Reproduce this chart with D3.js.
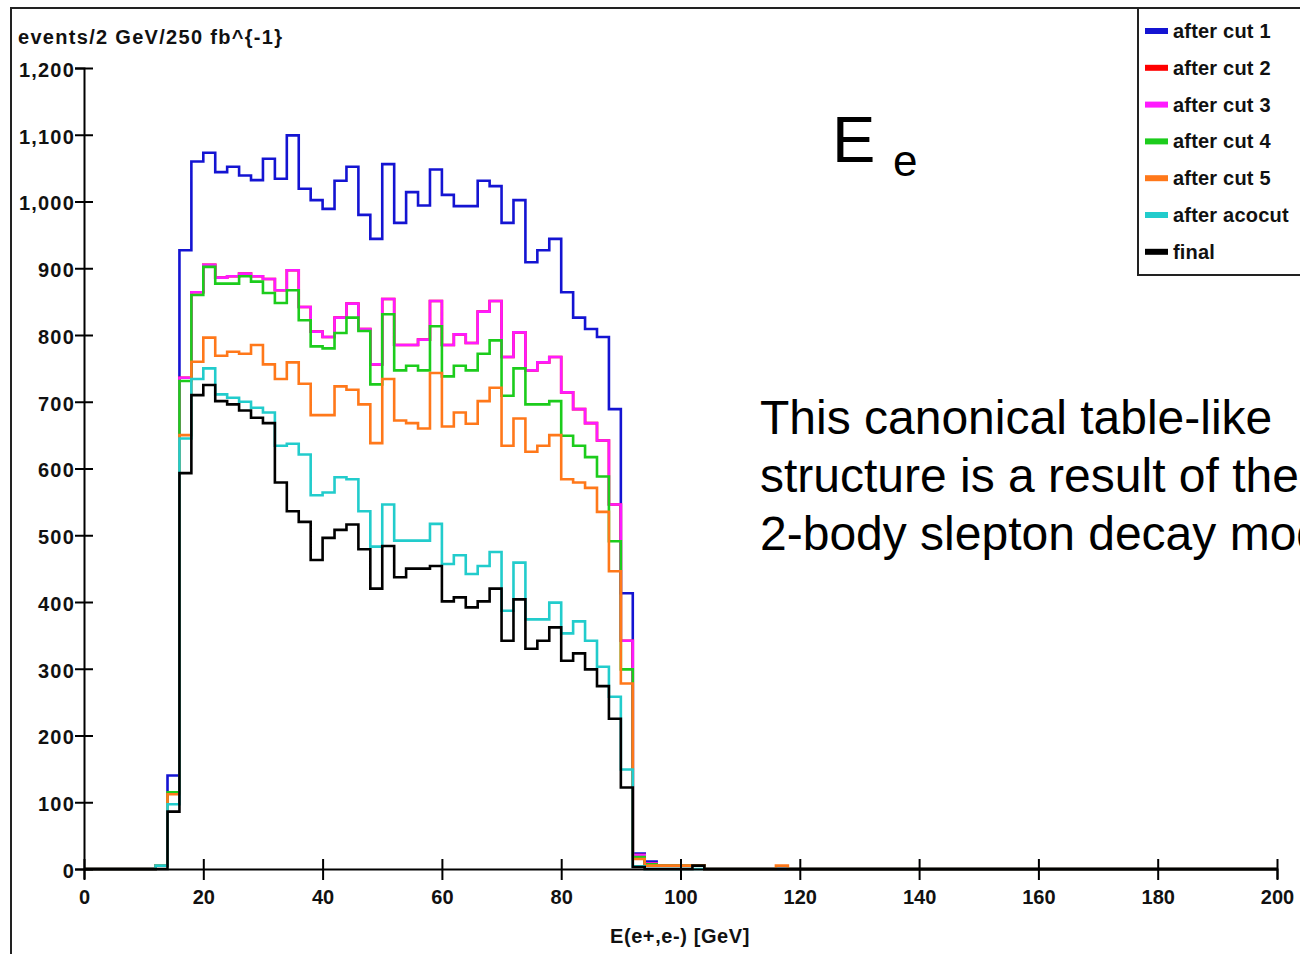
<!DOCTYPE html>
<html>
<head>
<meta charset="utf-8">
<script src="https://cdn.jsdelivr.net/npm/d3@7"></script>
<style>
  body { margin: 0; background: #fff; }
  svg { display: block; }
  .lbl { font-family: "Liberation Sans", Arial, sans-serif; font-weight: bold; font-size: 20px; fill: #111; }
  .note { font-family: "Liberation Sans", Arial, sans-serif; fill: #000; }
</style>
</head>
<body>
<div id="graph"></div>
<script>
/* data: one value per 2 GeV bin, first bin starts at 12 GeV */
var binStart = 12;
var binWidth = 2;

var cut1   = [5,140,927,1060,1073,1044,1052,1039,1032,1064,1034,1099,1019,1002,989,1031,1052,980,944,1056,968,1014,994,1048,1010,993,993,1031,1023,968,1002,909,927,944,864,826,809,797,689,413,23,11,5,5,5,5];
var cut2   = [5,115,736,864,905,886,888,892,888,884,867,897,842,805,797,826,847,809,756,854,785,785,793,851,785,801,788,835,851,767,804,747,759,767,714,689,668,642,546,342,21,8,5,5,5,5];
var cut3   = [5,115,736,864,905,886,888,892,888,884,867,897,842,805,797,826,847,809,756,854,785,785,793,851,785,801,788,835,851,767,804,747,759,767,714,689,668,642,546,342,21,8,5,5,5,5];
var cut4   = [5,115,731,860,902,877,877,888,880,863,848,867,822,783,780,803,826,806,726,831,747,754,747,813,738,754,747,772,792,709,750,696,696,701,649,634,617,588,491,299,18,7,5,5,5,5];
var cut5   = [5,112,650,760,796,769,775,772,785,756,734,759,727,680,680,723,718,696,638,734,672,668,660,743,663,684,667,701,721,634,675,625,634,650,584,579,571,535,446,278,15,5,5,5,5,5,0,0,0,0,0,0,5];
var acocut = [5,97,645,734,750,711,706,700,691,684,634,637,621,560,564,587,584,536,483,546,492,492,492,517,457,470,442,454,475,387,459,374,374,399,353,371,342,303,258,149,4];
var final  = [0,86,593,710,725,701,696,687,676,668,579,536,520,463,496,508,516,479,420,484,437,450,450,454,401,407,392,401,420,342,404,330,342,362,312,323,299,274,225,122,3,0,0,0,0,5];

var seriesNames  = ["after cut 1", "after cut 2", "after cut 3", "after cut 4", "after cut 5", "after acocut", "final"];
var seriesData   = [cut1, cut2, cut3, cut4, cut5, acocut, final];
var seriesColors = ["#1414d2", "#ff0000", "#ff1aff", "#1ccc1c", "#ff781a", "#22cccc", "#000000"];

var xTicks = [0, 20, 40, 60, 80, 100, 120, 140, 160, 180, 200];
var yTicks = [0, 100, 200, 300, 400, 500, 600, 700, 800, 900, 1000, 1100, 1200];

var yTitle = "events/2 GeV/250 fb^{-1}";
var xTitle = "E(e+,e-) [GeV]";

var width = 1300;
var height = 954;

var svg = d3.select("#graph")
            .append("svg")
            .attr("width", width)
            .attr("height", height);

var x = d3.scaleLinear().domain([0, 200]).range([84, 1277]);
var y = d3.scaleLinear().domain([0, 1200]).range([869, 68]);

// outer frame (cut by the page edge on right and bottom)
svg.append("path")
   .attr("d", "M11,956 L11,8 L1302,8")
   .attr("fill", "none")
   .attr("stroke", "#222")
   .attr("stroke-width", 2);

// histograms as step outlines
var line = d3.line()
             .x(function(d) { return x(d[0]); })
             .y(function(d) { return y(d[1]); })
             .curve(d3.curveStepAfter);

seriesData.forEach(function(vals, k) {
  var pts = [[0, 0]];
  vals.forEach(function(v, i) { pts.push([binStart + i * binWidth, v]); });
  pts.push([binStart + vals.length * binWidth, 0]);
  pts.push([200, 0]);
  svg.append("path")
     .datum(pts)
     .attr("d", line)
     .attr("fill", "none")
     .attr("stroke", seriesColors[k])
     .attr("stroke-width", 2.6)
     .attr("stroke-linejoin", "miter");
});

// axes
var xAxis = svg.append("g")
   .attr("transform", "translate(0," + y(0) + ")")
   .call(d3.axisBottom(x).tickValues(xTicks).tickSize(10).tickFormat(d3.format("d")));
xAxis.select(".domain").attr("stroke", "#000").attr("stroke-width", 2);
xAxis.selectAll(".tick line").attr("y1", -10).attr("y2", 11).attr("stroke", "#000").attr("stroke-width", 2);
xAxis.selectAll(".tick text").attr("class", "lbl").attr("y", 21).attr("dy", "0.71em");

var yAxis = svg.append("g")
   .attr("transform", "translate(" + x(0) + ",0)")
   .call(d3.axisLeft(y).tickValues(yTicks).tickSize(9).tickFormat(d3.format(",")));
yAxis.select(".domain").attr("stroke", "#000").attr("stroke-width", 2);
yAxis.selectAll(".tick line").attr("x1", 9).attr("x2", -9).attr("stroke", "#000").attr("stroke-width", 2);
yAxis.selectAll(".tick text").attr("class", "lbl").attr("x", -9).attr("dy", "0.42em")
     .style("letter-spacing", "1.2px");

svg.append("text").attr("class", "lbl")
   .attr("x", 18).attr("y", 44)
   .style("letter-spacing", "1.3px")
   .text(yTitle);

svg.append("text").attr("class", "lbl")
   .attr("x", 680).attr("y", 943)
   .attr("text-anchor", "middle")
   .style("letter-spacing", "0.6px")
   .text(xTitle);

// legend
var lg = svg.append("g");
lg.append("rect")
  .attr("x", 1138).attr("y", 8).attr("width", 170).attr("height", 267)
  .attr("fill", "#fff").attr("stroke", "#222").attr("stroke-width", 2);
seriesNames.forEach(function(name, k) {
  var yy = 31 + k * 36.8;
  lg.append("rect")
    .attr("x", 1145).attr("y", yy - 3).attr("width", 23).attr("height", 6)
    .attr("fill", seriesColors[k]);
  lg.append("text").attr("class", "lbl")
    .attr("x", 1173).attr("y", yy + 7)
    .style("letter-spacing", "0.2px")
    .text(name);
});

// annotation
svg.append("text").attr("class", "note")
   .attr("x", 832).attr("y", 162).style("font-size", "65px").text("E");
svg.append("text").attr("class", "note")
   .attr("x", 893).attr("y", 176).style("font-size", "44px").text("e");

var noteLines = ["This canonical table-like", "structure is a result of the", "2-body slepton decay mode"];
noteLines.forEach(function(t, i) {
  svg.append("text").attr("class", "note")
     .attr("x", 760).attr("y", 434 + i * 58)
     .style("font-size", "48px")
     .text(t);
});
</script>
</body>
</html>
